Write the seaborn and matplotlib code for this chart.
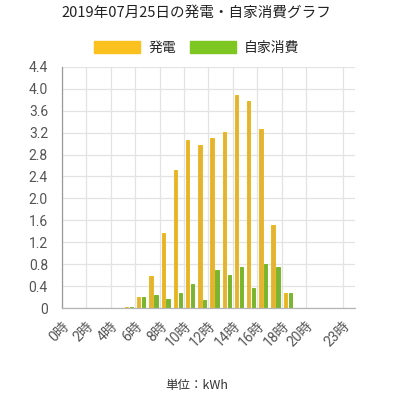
import pandas as pd
import matplotlib.pyplot as plt
import seaborn as sns
from matplotlib.patches import Patch

# 2019-07-25 hourly values (kWh)
hours = list(range(24))
hour_labels = [f"{h}時" for h in hours]
generation = [0, 0, 0, 0, 0, 0.01, 0.20, 0.58, 1.36, 2.51, 3.06, 2.97,
              3.11, 3.21, 3.89, 3.77, 3.26, 1.51, 0.27, 0, 0, 0, 0, 0]
self_use = [0, 0, 0, 0, 0, 0.01, 0.20, 0.23, 0.16, 0.27, 0.43, 0.14,
            0.69, 0.60, 0.75, 0.37, 0.80, 0.75, 0.27, 0, 0, 0, 0, 0]
shown_hours = [0, 2, 4, 6, 8, 10, 12, 14, 16, 18, 20, 23]
y_ticks = [0, 0.4, 0.8, 1.2, 1.6, 2.0, 2.4, 2.8, 3.2, 3.6, 4.0, 4.4]
series_names = ['発電', '自家消費']

colors = {'発電': '#fbc11f', '自家消費': '#7ec622'}
edges = {'発電': '#f2b300', '自家消費': '#6db514'}

sns.set_theme(style="white")
plt.rcParams['font.family'] = ['Roboto', 'Noto Sans CJK JP', 'DejaVu Sans']

df = pd.DataFrame({
    'hour': hour_labels * 2,
    'value': generation + self_use,
    'series': [series_names[0]] * 24 + [series_names[1]] * 24,
})

fig = plt.figure(figsize=(3.94, 4.0), dpi=100)
ax = fig.add_axes([0.157, 0.23, 0.744, 0.603])

sns.barplot(data=df, x='hour', y='value', hue='series', order=hour_labels,
            hue_order=series_names, palette=colors, width=0.8, gap=0.32,
            linewidth=0.6, ax=ax, legend=False)
for patch, s in zip(ax.patches, [series_names[0]] * 24 + [series_names[1]] * 24):
    patch.set_edgecolor(edges[s])

grid_c = '#e3e3e3'
ax.set_xlim(-0.5, 23.5)
ax.set_ylim(0, 4.4)
ax.set_yticks(y_ticks)
ax.set_yticklabels(['0' if v == 0 else f'{v:.1f}' for v in y_ticks])
ax.set_xticks([h - 0.5 for h in shown_hours])
ax.set_xticklabels([hour_labels[h] for h in shown_hours], rotation=45,
                   ha='right', va='top', rotation_mode='anchor')
ax.grid(True, color=grid_c, linewidth=0.9)
ax.set_axisbelow(True)
ax.tick_params(axis='both', length=8, width=0.9, color=grid_c,
               labelsize=10, labelcolor='#555555', pad=2)
ax.tick_params(axis='x', pad=0)
ax.set_xlabel('')
ax.set_ylabel('')
for side in ['top', 'right']:
    ax.spines[side].set_visible(False)
ax.spines['left'].set_color('#9a9a9a')
ax.spines['bottom'].set_color('#b5b5b5')
ax.spines['left'].set_linewidth(0.9)
ax.spines['bottom'].set_linewidth(0.9)

fig.text(0.499, 0.967, '2019年07月25日の発電・自家消費グラフ', ha='center', va='center',
         fontsize=10.5, color='#222222', family=['Noto Sans CJK JP'])

handles = [Patch(facecolor=colors[s], edgecolor=colors[s]) for s in series_names]
fig.legend(handles, series_names, loc='center', bbox_to_anchor=(0.5, 0.88), ncol=2,
           frameon=False, handlelength=3.3, handleheight=0.9,
           handletextpad=0.6, columnspacing=1.0,
           prop={'family': ['Noto Sans CJK JP'], 'size': 10})

fig.text(0.5, 0.037, '単位：kWh', ha='center', va='center', fontsize=9,
         color='#333333', family=['Noto Sans CJK JP'])

fig.savefig('out.png', dpi=100)
